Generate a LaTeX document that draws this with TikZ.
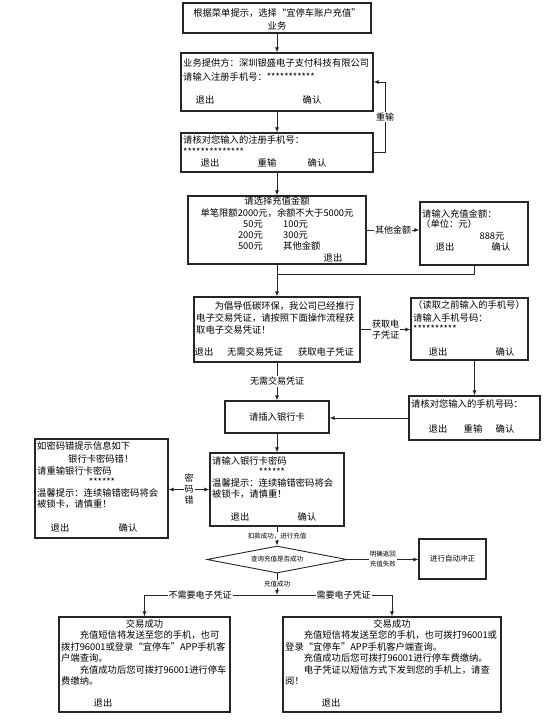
\documentclass[tikz,border=0pt]{standalone}
\usepackage{fontspec}
\setmainfont{Noto Sans CJK SC}
\usetikzlibrary{arrows.meta,shapes.geometric}
\begin{document}
\begin{tikzpicture}[x=1pt,y=-1pt,
  box/.style={draw=black!85,line width=1.1pt,inner sep=0pt},
  t/.style={inner sep=0pt,anchor=west,font=\fontsize{9.3}{11}\selectfont,text height=8pt,text depth=1.5pt},
  c/.style={t,anchor=center},
  ln/.style={draw=black!85,line width=0.9pt},
  arr/.style={ln,-{Latex[length=5pt,width=4pt]}},
  lab/.style={fill=white,inner sep=1pt,font=\fontsize{9}{11.5}\selectfont,align=center},
  sl/.style={fill=white,inner sep=1pt,font=\fontsize{6.5}{10}\selectfont,align=center}
]
\useasboundingbox (0,0) rectangle (554,720);

% boxes
\node[box,minimum width=188pt,minimum height=30pt] (b1) at (277,18) {};
\node[box,minimum width=192pt,minimum height=58pt] (b2) at (277,82) {};
\node[box,minimum width=192pt,minimum height=39pt] (b3) at (277,152.5) {};
\node[box,minimum width=178pt,minimum height=68pt] (b4) at (277,230) {};
\node[box,minimum width=108pt,minimum height=63pt] (b5) at (474,233.5) {};
\node[box,minimum width=166pt,minimum height=65pt] (b6) at (277,329.5) {};
\node[box,minimum width=117pt,minimum height=62pt] (b7) at (469.5,329) {};
\node[box,minimum width=131pt,minimum height=44pt] (b8) at (474.5,418) {};
\node[box,minimum width=104pt,minimum height=32pt] (b9) at (277,417) {};
\node[box,minimum width=134pt,minimum height=73pt] (b10) at (277,489.5) {};
\node[box,minimum width=133pt,minimum height=99pt] (b11) at (101.5,488.5) {};
\node[ln,diamond,aspect=5,minimum width=140pt,minimum height=27pt,inner sep=0pt,font=\fontsize{6.5}{8}\selectfont] (d) at (277,559.5) {查询充值是否成功};
\node[box,minimum width=67pt,minimum height=40pt,font=\fontsize{7.5}{9}\selectfont] (b12) at (452.5,559) {进行自动冲正};
\node[box,minimum width=171pt,minimum height=95pt] (b13) at (144.5,664.5) {};
\node[box,minimum width=218pt,minimum height=95pt] (b14) at (392,664.5) {};

% texts
\node[c] (b1a) at (277,13.5) {根据菜单提示，选择“宜停车账户充值”};
\node[c] (b1b) at (277,26) {业务};

\node[t] (b2a) at (183,63) {业务提供方：深圳银盛电子支付科技有限公司};
\node[t] (b2b) at (183,77) {请输入注册手机号：***********};
\node[c] (b2c) at (205,100) {退出};
\node[c] (b2d) at (312,100) {确认};

\node[t] (b3a) at (183,140) {请核对您输入的注册手机号：};
\node[t] (b3b) at (183,152) {**************};
\node[c] (b3c) at (210,163) {退出};
\node[c] (b3d) at (267,163) {重输};
\node[c] (b3e) at (317,163) {确认};

\node[c] (b4a) at (277,201) {请选择充值金额};
\node[c] (b4b) at (277,213) {单笔限额2000元，余额不大于5000元};
\node[t,anchor=east] (b4c) at (263,224) {50元};
\node[t] (b4d) at (283,224) {100元};
\node[t,anchor=east] (b4e) at (263,235) {200元};
\node[t] (b4f) at (283,235) {300元};
\node[t,anchor=east] (b4g) at (263,246) {500元};
\node[t] (b4h) at (283,246) {其他金额};
\node[c] (b4i) at (333,258) {退出};

\node[t] (b5a) at (422,214) {请输入充值金额：};
\node[t] (b5b) at (421,224) {（单位：元）};
\node[c] (b5c) at (492,236) {888元};
\node[c] (b5d) at (445,247) {退出};
\node[c] (b5e) at (501,247) {确认};

\node[t] (b6a) at (196,306) {\hspace*{2em}为倡导低碳环保，我公司已经推行};
\node[t] (b6b) at (196,318) {电子交易凭证，请按照下面操作流程获};
\node[t] (b6c) at (196,330) {取电子交易凭证！};
\node[c] (b6d) at (204,352) {退出};
\node[c] (b6e) at (255,352) {无需交易凭证};
\node[c] (b6f) at (326,352) {获取电子凭证};

\node[t] (b7a) at (413,305) {（读取之前输入的手机号）};
\node[t] (b7b) at (413,318) {请输入手机号码：};
\node[t] (b7c) at (413,329) {**********};
\node[c] (b7d) at (438,352) {退出};
\node[c] (b7e) at (505,352) {确认};

\node[t] (b8a) at (411,404) {请核对您输入的手机号码：};
\node[c] (b8b) at (438,429) {退出};
\node[c] (b8c) at (473,429) {重输};
\node[c] (b8d) at (505,429) {确认};

\node[c] (b9a) at (277,417) {请插入银行卡};

\node[t] (b10a) at (212,461) {请输入银行卡密码};
\node[c] (b10b) at (272,472) {******};
\node[t] (b10c) at (212,483) {温馨提示：连续输错密码将会};
\node[t] (b10d) at (212,494) {被锁卡，请慎重！};
\node[c] (b10e) at (240,517) {退出};
\node[c] (b10f) at (307,517) {确认};

\node[t] (b11a) at (37,446) {如密码错提示信息如下};
\node[t] (b11b) at (68,459) {银行卡密码错！};
\node[t] (b11c) at (37,471) {请重输银行卡密码};
\node[c] (b11d) at (102,482) {******};
\node[t] (b11e) at (37,493) {温馨提示：连续输错密码将会};
\node[t] (b11f) at (37,504) {被锁卡，请慎重！};
\node[c] (b11g) at (60,528) {退出};
\node[c] (b11h) at (128,528) {确认};

\node[c] (b13a) at (144.5,624) {交易成功};
\node[t] (b13b) at (61,635) {\hspace*{2em}充值短信将发送至您的手机，也可};
\node[t] (b13c) at (61,647) {拨打96001或登录“宜停车”APP手机客};
\node[t] (b13d) at (61,658) {户端查询。};
\node[t] (b13e) at (61,670) {\hspace*{2em}充值成功后您可拨打96001进行停车};
\node[t] (b13f) at (61,681) {费缴纳。};
\node[c] (b13g) at (103,703) {退出};

\node[c] (b14a) at (392,624) {交易成功};
\node[t] (b14b) at (285,635) {\hspace*{2em}充值短信将发送至您的手机，也可拨打96001或};
\node[t] (b14c) at (285,647) {登录“宜停车”APP手机客户端查询。};
\node[t] (b14d) at (285,658) {\hspace*{2em}充值成功后您可拨打96001进行停车费缴纳。};
\node[t] (b14e) at (285,670) {\hspace*{2em}电子凭证以短信方式下发到您的手机上，请查};
\node[t] (b14f) at (285,681) {阅！};
\node[c] (b14g) at (331,703) {退出};

% connectors
\coordinate (lp) at (385,82);
\coordinate (j1) at (277,274);
\coordinate (j2) at (277,595);

\draw[arr] (b1.south) -- (b2.north);
\draw[arr] (b2.south) -- (b3.north);
\draw[arr] (b3.east) -| node[lab,pos=0.75] (l1) {重输} (lp) -- (b2.east |- lp);
\draw[arr] (b3.south) -- (b4.north);
\draw[arr] (b4.east) -- node[lab] (l2) {其他金额} (b5.west |- b4.east);
\draw[ln] (b5.south) |- (j1);
\draw[arr] (b4.south) -- (b6.north);
\draw[arr] (b6.east) -- node[lab] (l3) {获取电\\子凭证} (b7.west |- b6.east);
\draw[arr] (b8.north |- b7.south) -- (b8.north);
\draw[arr] (b8.west) -- (b9.east |- b8.west);
\draw[arr] (b6.south) -- node[lab] (l4) {无需交易凭证} (b9.north);
\draw[arr] (b9.south) -- (b10.north);
\draw[ln,{Latex[length=5pt,width=4pt]}-{Latex[length=5pt,width=4pt]}] (b11.east |- b10.west) -- node[lab,font=\fontsize{9}{11}\selectfont] (l5) {密\\码\\错} (b10.west);
\draw[arr] (b10.south) -- node[sl] (l6) {扣款成功，进行充值} (d.north);
\draw[arr] (d.east) -- node[sl] (l7) {明确返回\\充值失败} (b12.west |- d.east);
\draw[arr] (d.south) -- node[sl] (l8) {充值成功} (j2);
\draw[arr] (j2) -| node[lab,pos=0.29] (l9) {不需要电子凭证} (b13.north);
\draw[arr] (j2) -| node[lab,pos=0.29] (l10) {需要电子凭证} (b14.north);
\end{tikzpicture}
\end{document}
